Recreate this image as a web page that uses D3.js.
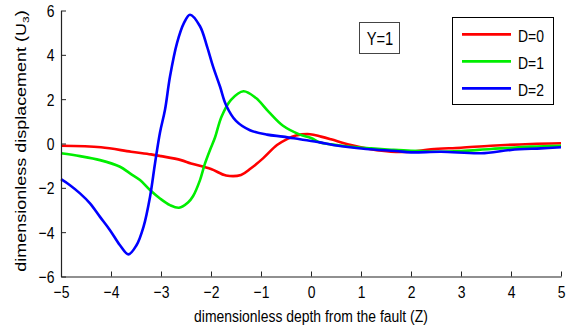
<!DOCTYPE html>
<html>
<head>
<meta charset="utf-8">
<script src="https://cdn.jsdelivr.net/npm/d3@7/dist/d3.min.js"></script>
<style>
  html, body { margin: 0; padding: 0; background: #fff; }
  svg { display: block; }
  text { font-family: "Liberation Sans", Arial, sans-serif; fill: #000; }
</style>
</head>
<body>
<svg id="chart" width="575" height="333"></svg>
<script>
// Dimensionless displacement U3 against depth Z for three values of D (Y = 1)
const zD0 = [-5, -4.2, -3.6, -3.2, -3.0, -2.6, -2.4, -2.0, -1.7, -1.4, -1.2, -0.96, -0.68, -0.48, -0.3, -0.02, 0.2, 0.4, 0.8, 1.2, 1.6, 2.0, 2.4, 3.0, 3.6, 4.4, 5];
const uD0 = [-0.1, -0.17, -0.37, -0.49, -0.57, -0.75, -0.9, -1.15, -1.44, -1.42, -1.12, -0.67, -0.07, 0.2, 0.36, 0.42, 0.31, 0.19, -0.07, -0.26, -0.37, -0.37, -0.26, -0.19, -0.1, -0.02, 0.01];

const zD1 = [-5, -4.62, -4.22, -3.82, -3.62, -3.42, -3.22, -3.02, -2.82, -2.64, -2.46, -2.36, -2.22, -2.12, -2.02, -1.92, -1.79, -1.6, -1.35, -1.1, -0.85, -0.56, -0.22, 0.0, 0.18, 0.4, 0.8, 1.2, 1.6, 2.0, 2.6, 3.0, 3.6, 4.4, 5];
const uD1 = [-0.44, -0.57, -0.75, -1.05, -1.35, -1.65, -2.1, -2.48, -2.78, -2.9, -2.66, -2.38, -1.65, -0.9, -0.29, 0.27, 1.21, 1.97, 2.36, 2.05, 1.44, 0.8, 0.4, 0.25, 0.05, -0.04, -0.15, -0.22, -0.28, -0.33, -0.37, -0.34, -0.25, -0.14, -0.1];

const zD2 = [-5, -4.82, -4.62, -4.42, -4.22, -4.02, -3.82, -3.65, -3.49, -3.35, -3.22, -3.12, -3.02, -2.92, -2.82, -2.68, -2.54, -2.42, -2.22, -2.08, -1.96, -1.82, -1.7, -1.5, -1.22, -0.88, -0.56, -0.22, 0.18, 0.44, 1.1, 1.7, 2.0, 2.6, 3.4, 4.0, 4.6, 5];
const uD2 = [-1.61, -1.88, -2.25, -2.7, -3.31, -3.91, -4.59, -5.0, -4.59, -3.76, -2.41, -0.9, 0.5, 1.52, 3.02, 4.53, 5.44, 5.81, 5.29, 4.38, 3.48, 2.57, 1.74, 1.02, 0.6, 0.4, 0.31, 0.19, 0.05, -0.07, -0.25, -0.34, -0.4, -0.37, -0.44, -0.29, -0.22, -0.17];

const seriesNames = ["D=0", "D=1", "D=2"];
const seriesColors = ["#ff0000", "#00ee00", "#0000ff"];
const xTicks = [-5, -4, -3, -2, -1, 0, 1, 2, 3, 4, 5];
const yTicks = [-6, -4, -2, 0, 2, 4, 6];

const series = [
  { name: seriesNames[0], color: seriesColors[0], pts: zD0.map((z, i) => [z, uD0[i]]) },
  { name: seriesNames[1], color: seriesColors[1], pts: zD1.map((z, i) => [z, uD1[i]]) },
  { name: seriesNames[2], color: seriesColors[2], pts: zD2.map((z, i) => [z, uD2[i]]) }
];

const svg = d3.select("#chart");
const plotLeft = 61, plotRight = 561, plotTop = 10.5, plotBottom = 276.5;
const squeeze = 0.82; // glyph width factor for the tall, narrow lettering

const x = d3.scaleLinear().domain([-5, 5]).range([plotLeft, plotRight]);
const y = d3.scaleLinear().domain([-6, 6]).range([plotBottom, plotTop]);

// curves
const line = d3.line()
  .x(d => x(d[0]))
  .y(d => y(d[1]))
  .curve(d3.curveCatmullRom.alpha(0.5));

svg.append("g")
  .selectAll("path")
  .data(series)
  .join("path")
  .attr("d", d => line(d.pts))
  .attr("fill", "none")
  .attr("stroke", d => d.color)
  .attr("stroke-width", 2.6)
  .attr("stroke-linejoin", "round");

// axes with inward ticks, left and bottom only
const xAxis = d3.axisBottom(x).tickValues(xTicks).tickFormat(d3.format("d"))
  .tickSizeInner(-5).tickSizeOuter(0).tickPadding(9);
const yAxis = d3.axisLeft(y).tickValues(yTicks).tickFormat(d3.format("d"))
  .tickSizeInner(-5).tickSizeOuter(0).tickPadding(8);

const gx = svg.append("g").attr("transform", `translate(0,${plotBottom})`).call(xAxis);
const gy = svg.append("g").attr("transform", `translate(${plotLeft},0)`).call(yAxis);

[gx, gy].forEach(g => {
  g.select(".domain").attr("stroke", "#222").attr("stroke-width", 1.2);
  g.selectAll(".tick line").attr("stroke", "#222");
  g.selectAll(".tick text")
    .attr("font-family", "'Liberation Sans', Arial, sans-serif")
    .attr("font-size", 17).attr("fill", "#000")
    .attr("transform", `scale(${squeeze},1)`);
});
gy.selectAll(".tick text").attr("dy", "0.36em");

// horizontal text with narrow glyphs
function label(xp, yp, str, size, anchor) {
  return svg.append("text")
    .attr("transform", `translate(${xp},${yp}) scale(${squeeze},1)`)
    .attr("text-anchor", anchor || "start")
    .attr("font-size", size)
    .text(str);
}

// axis titles
label((plotLeft + plotRight) / 2, 322, "dimensionless depth from the fault (Z)", 17, "middle");

const yl = svg.append("text")
  .attr("transform", `translate(25.5,141) rotate(-90) scale(1,${squeeze})`)
  .attr("text-anchor", "middle")
  .attr("font-size", 18);
yl.append("tspan").text("dimensionless displacement (U");
yl.append("tspan").attr("font-size", 12).attr("dy", 4).text("3");
yl.append("tspan").attr("dy", -4).text(")");

// annotation box
svg.append("rect")
  .attr("x", 359.5).attr("y", 22.5).attr("width", 40).attr("height", 31)
  .attr("fill", "#fff").attr("stroke", "#444").attr("stroke-width", 1);
label(380, 45, "Y=1", 18, "middle");

// legend
const lg = svg.append("g");
lg.append("rect")
  .attr("x", 452.5).attr("y", 17.5).attr("width", 101).attr("height", 87)
  .attr("fill", "#fff").attr("stroke", "#000").attr("stroke-width", 1);
const items = lg.selectAll("g.item").data(series).join("g").attr("class", "item")
  .attr("transform", (d, i) => `translate(0,${34.3 + i * 27})`);
items.append("line")
  .attr("x1", 462).attr("x2", 511).attr("y1", 0).attr("y2", 0)
  .attr("stroke", d => d.color).attr("stroke-width", 2.8);
items.append("text")
  .attr("transform", `translate(518,7.5) scale(${squeeze},1)`)
  .attr("font-size", 17)
  .text(d => d.name);
</script>
</body>
</html>
